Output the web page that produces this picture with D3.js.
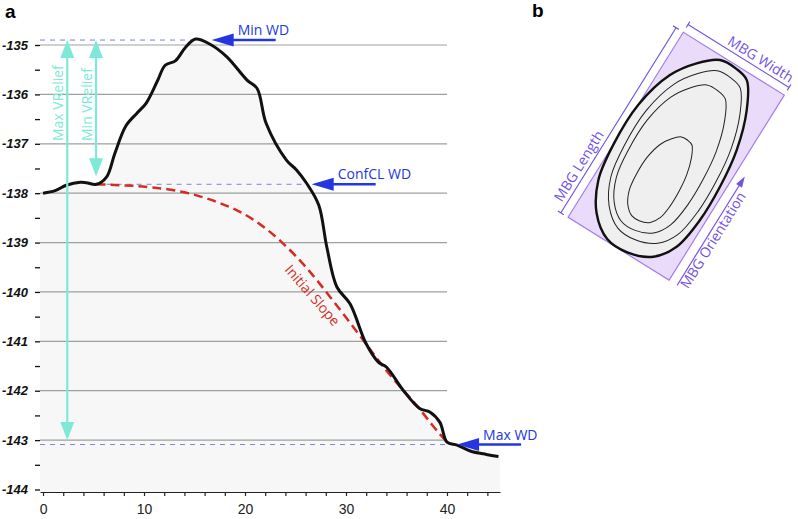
<!DOCTYPE html>
<html>
<head>
<meta charset="utf-8">
<title>Profile and MBG</title>
<script src="https://cdn.jsdelivr.net/npm/d3@7"></script>
<style>
body { margin: 0; background: #fff; }
svg { display: block; font-family: "Open Sans", sans-serif; }
.axis text { font-family: "Liberation Sans", Arial, sans-serif; }
</style>
</head>
<body>
<svg id="chart" width="798" height="519"></svg>
<script>
// ---- panel a data: bathymetric profile (distance, depth) ----
var profileX = [0, 1.2, 2.3, 3.7, 4.3, 5.3, 6.3, 7.1, 8.2, 9.3, 10.2, 11.3, 12.1, 13.1, 14.1, 15.1,
                16.5, 18.2, 20.2, 21.2, 22.1, 24.1, 25.1, 26.1, 27.3, 28.1, 29.1, 30.4, 32.0, 33.2,
                34.0, 35.7, 37.3, 38.3, 39.3, 40.0, 41.0, 42.3, 43.9, 45.1];
var profileY = [-138.0, -137.95, -137.84, -137.78, -137.79, -137.82, -137.67, -137.2, -136.64, -136.38,
                -136.18, -135.74, -135.41, -135.32, -135.05, -134.88, -134.98, -135.24, -135.71, -135.88,
                -136.59, -137.33, -137.53, -137.8, -138.24, -139.09, -139.9, -140.24, -141.05, -141.42,
                -141.52, -142.0, -142.36, -142.43, -142.64, -143.04, -143.1, -143.22, -143.29, -143.33];

// initial slope (red dashed)
var slopeX = [5.3, 8.0, 10.6, 14.2, 17.2, 19.5, 21.5, 23.5, 26.1, 28.7, 32.0, 33.5, 35.7, 37.3, 38.6, 40.0];
var slopeY = [-137.82, -137.84, -137.87, -137.97, -138.17, -138.36, -138.62, -138.95, -139.49, -140.17,
              -141.05, -141.48, -142.0, -142.36, -142.72, -143.04];

var depthTicks = d3.range(-144, -134.9, 0.5);
var gridDepths = d3.range(-143, -134.9, 1);
var distTicks = d3.range(0, 46, 2);

// water depth markers
var wdNames = ["Min WD", "ConfCL WD", "Max WD"];
var wdDepth = [-134.9, -137.82, -143.09];
var wdFrom = [-0.3, 5.3, -0.3];
var wdTo = [15.1, 26.1, 40.0];
var wdTip = [16.7, 26.6, 41.0];

// vertical relief arrows
var reliefNames = ["Max VRelief", "Min VRelief"];
var reliefX = [2.4, 5.25];
var reliefTop = [-134.9, -134.9];
var reliefBottom = [-143.0, -137.66];

// ---- panel b data: MBG rectangle and contours (local units along / across) ----
var mbgLength = 218, mbgWidth = 119;
var eggU = [104.8, 106, 101.9, 76.4, 37.2, -2.8, -41.6, -76.6, -97.4, -107.5, -106.8, -90.5, -61.3, -23.1, 24, 65.6, 89.7];
var eggV = [-13.6, 4.5, 19.7, 35.5, 48.1, 53.3, 53.9, 48.2, 33.7, 9.3, -14.8, -37.4, -53.5, -59.5, -59.3, -48.2, -31.7];
var contourCu = [2, -3, -27];
var contourCv = [-2, -5, -2];
var contourSu = [0.88, 0.76, 0.44];
var contourSv = [0.86, 0.70, 0.40];

var svg = d3.select("#chart");

var x = d3.scaleLinear().domain([-0.3, 45.25]).range([40, 500]);
var y = d3.scaleLinear().domain([-144, -135]).range([489.5, 45]);

var profile = profileX.map(function(d, i) { return {x: d, y: profileY[i]}; });
var slope = slopeX.map(function(d, i) { return {x: d, y: slopeY[i]}; });

// grey fill under the profile
var areaPts = [{x: -0.3, y: profileY[0]}].concat(profile, [{x: 45.25, y: profileY[profileY.length - 1]}]);
svg.append("path")
    .attr("d", d3.area()
        .x(function(d) { return x(d.x); })
        .y0(492)
        .y1(function(d) { return y(d.y); })
        .curve(d3.curveCatmullRom.alpha(0.5))(areaPts))
    .attr("fill", "#f7f7f7");

// grid lines
svg.append("g").selectAll("line")
    .data(gridDepths)
    .enter().append("line")
    .attr("x1", x(-0.3)).attr("x2", x(40))
    .attr("y1", function(d) { return y(d); })
    .attr("y2", function(d) { return y(d); })
    .attr("stroke", "#9aa2a0")
    .attr("stroke-width", 1.2);

// y axis
var yAxis = d3.axisLeft(y)
    .tickValues(depthTicks)
    .tickSize(5)
    .tickPadding(7)
    .tickFormat(function(d) { return d % 1 === 0 ? d : ""; });
var gy = svg.append("g").attr("class", "axis").attr("transform", "translate(40,0)").call(yAxis);
gy.select(".domain").remove();
gy.selectAll("line").attr("stroke", "#111").attr("stroke-width", 1.3);
gy.selectAll("text")
    .attr("fill", "#111")
    .style("font-size", "13px")
    .style("font-weight", "bold")
    .style("font-style", "italic");

// x axis
var xAxis = d3.axisBottom(x)
    .tickValues(distTicks)
    .tickSize(4)
    .tickSizeOuter(0)
    .tickPadding(8)
    .tickFormat(function(d) { return d % 10 === 0 ? d : ""; });
var gx = svg.append("g").attr("class", "axis").attr("transform", "translate(0,492)").call(xAxis);
gx.select(".domain").attr("stroke", "#222").attr("stroke-width", 1.2);
gx.selectAll("line").attr("stroke", "#222").attr("stroke-width", 1.2);
gx.selectAll("text").attr("fill", "#222").style("font-size", "14px");

// dashed water depth lines
var blue = "#2536e0";
wdNames.forEach(function(name, i) {
    var yy = y(wdDepth[i]);
    svg.append("line")
        .attr("x1", x(wdFrom[i])).attr("x2", x(wdTo[i]))
        .attr("y1", yy).attr("y2", yy)
        .attr("stroke", "#7d7fdc")
        .attr("stroke-width", 1)
        .attr("stroke-dasharray", "5,5");
});

// initial slope
svg.append("path")
    .attr("d", d3.line()
        .x(function(d) { return x(d.x); })
        .y(function(d) { return y(d.y); })
        .curve(d3.curveBasis)(slope))
    .attr("fill", "none")
    .attr("stroke", "#d62b22")
    .attr("stroke-width", 2.5)
    .attr("stroke-dasharray", "9,5");

// profile line
svg.append("path")
    .attr("d", d3.line()
        .x(function(d) { return x(d.x); })
        .y(function(d) { return y(d.y); })
        .curve(d3.curveCatmullRom.alpha(0.5))(profile))
    .attr("fill", "none")
    .attr("stroke", "#111")
    .attr("stroke-width", 3)
    .attr("stroke-linejoin", "round");

svg.append("text")
    .attr("transform", "translate(308.7,298.5) rotate(49)")
    .attr("text-anchor", "middle")
    .attr("fill", "#d0302a")
    .style("font-size", "14px")
    .text("Initial Slope");

// blue WD arrows and labels
wdNames.forEach(function(name, i) {
    var tx = x(wdTip[i]), ty = y(wdDepth[i]);
    svg.append("line")
        .attr("x1", tx + 18).attr("x2", tx + 64)
        .attr("y1", ty).attr("y2", ty)
        .attr("stroke", blue).attr("stroke-width", 2.5);
    svg.append("path")
        .attr("d", "M" + tx + "," + ty + "L" + (tx + 22) + "," + (ty - 6.5) + "L" + (tx + 22) + "," + (ty + 6.5) + "Z")
        .attr("fill", blue);
    svg.append("text")
        .attr("x", tx + 26).attr("y", ty - 5)
        .attr("fill", blue)
        .style("font-size", "14px")
        .text(name);
});

// cyan relief arrows
var cyan = "#7de9d9";
reliefNames.forEach(function(name, i) {
    var xx = x(reliefX[i]), y1 = y(reliefTop[i]), y2 = y(reliefBottom[i]);
    svg.append("line")
        .attr("x1", xx).attr("x2", xx)
        .attr("y1", y1 + 14).attr("y2", y2 - 14)
        .attr("stroke", cyan).attr("stroke-width", 2.2);
    svg.append("path")
        .attr("d", "M" + xx + "," + y1 + "L" + (xx - 7) + "," + (y1 + 18) + "L" + (xx + 7) + "," + (y1 + 18) + "Z" +
                   "M" + xx + "," + y2 + "L" + (xx - 7) + "," + (y2 - 18) + "L" + (xx + 7) + "," + (y2 - 18) + "Z")
        .attr("fill", cyan);
    svg.append("text")
        .attr("transform", "translate(" + (xx - 4) + ",141) rotate(-90)")
        .attr("fill", cyan)
        .style("font-size", "14px")
        .text(name);
});

// panel labels
svg.append("text").attr("x", 5).attr("y", 18)
    .style("font-family", "Liberation Sans, Arial, sans-serif")
    .style("font-weight", "bold").style("font-size", "19px").text("a");
svg.append("text").attr("x", 532).attr("y", 17)
    .style("font-family", "Liberation Sans, Arial, sans-serif")
    .style("font-weight", "bold").style("font-size", "19px").text("b");

// ---- panel b ----
var purple = "#7354e2";
var hl = mbgLength / 2, hw = mbgWidth / 2;
var gb = svg.append("g").attr("transform", "translate(676.2,156.2) rotate(31.9)");

gb.append("rect")
    .attr("x", -hw).attr("y", -hl)
    .attr("width", mbgWidth).attr("height", mbgLength)
    .attr("fill", "#ebdbfb")
    .attr("stroke", "#a47cee")
    .attr("stroke-width", 1.2);

var eggLine = d3.line().curve(d3.curveCatmullRomClosed.alpha(0.5));
var outer = eggU.map(function(u, i) { return [eggV[i], -u]; });
gb.append("path")
    .attr("d", eggLine(outer))
    .attr("fill", "#eeefee")
    .attr("stroke", "#111")
    .attr("stroke-width", 2.4);

contourCu.forEach(function(cu, k) {
    var pts = eggU.map(function(u, i) {
        var v = contourCv[k] + contourSv[k] * (eggV[i] + 4);
        var uu = cu + contourSu[k] * u;
        return [v, -uu];
    });
    gb.append("path")
        .attr("d", eggLine(pts))
        .attr("fill", "none")
        .attr("stroke", "#222")
        .attr("stroke-width", 1);
});

// dimension lines
var lx = -hw - 8.5, wy = -hl - 9;
gb.append("path")
    .attr("d", "M" + lx + "," + (-hl) + "L" + lx + "," + hl +
               "M" + (lx - 3.5) + "," + (-hl) + "L" + (lx + 3.5) + "," + (-hl) +
               "M" + (lx - 3.5) + "," + hl + "L" + (lx + 3.5) + "," + hl +
               "M" + (-hw) + "," + wy + "L" + hw + "," + wy +
               "M" + (-hw) + "," + (wy - 3.5) + "L" + (-hw) + "," + (wy + 3.5) +
               "M" + hw + "," + (wy - 3.5) + "L" + hw + "," + (wy + 3.5))
    .attr("fill", "none")
    .attr("stroke", purple)
    .attr("stroke-width", 1.2);

// orientation arrow
var ox = hw + 9.5;
gb.append("line")
    .attr("x1", ox).attr("x2", ox)
    .attr("y1", hl).attr("y2", -9)
    .attr("stroke", purple).attr("stroke-width", 1.2);
gb.append("path")
    .attr("d", "M" + ox + "," + (-19) + "L" + (ox - 3.5) + "," + (-8) + "L" + (ox + 3.5) + "," + (-8) + "Z")
    .attr("fill", purple);

gb.append("text")
    .attr("transform", "translate(" + (-hw - 13) + "," + (hl - 9) + ") rotate(-90)")
    .attr("fill", purple).style("font-size", "14px")
    .text("MBG Length");
gb.append("text")
    .attr("x", hw - 2).attr("y", -hl - 13)
    .attr("text-anchor", "end")
    .attr("fill", purple).style("font-size", "14px")
    .text("MBG Width");
gb.append("text")
    .attr("transform", "translate(" + (hw + 21) + "," + (hl - 2) + ") rotate(-90)")
    .attr("fill", purple).style("font-size", "14px")
    .text("MBG Orientation");
</script>
</body>
</html>
